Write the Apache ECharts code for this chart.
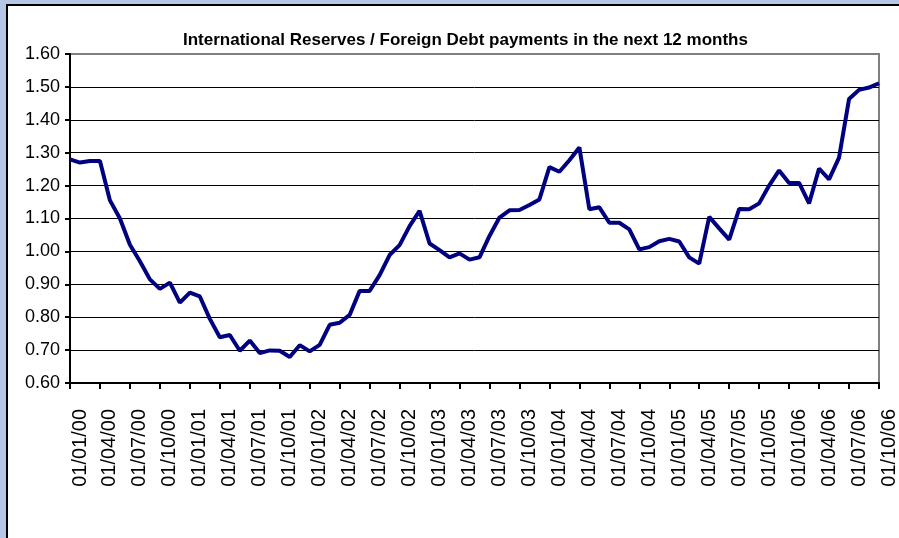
<!DOCTYPE html>
<html>
<head>
<meta charset="utf-8">
<script src="https://cdn.jsdelivr.net/npm/echarts@6/dist/echarts.min.js"></script>
<style>html,body{margin:0;padding:0;background:#b4c7e7;}#chart{width:899px;height:538px;}</style>
</head>
<body>
<div id="chart"></div>
<script>
const chartTitle = 'International Reserves / Foreign Debt payments in the next 12 months';
const categories = [
 '01/01/00','01/02/00','01/03/00','01/04/00','01/05/00','01/06/00','01/07/00','01/08/00','01/09/00','01/10/00','01/11/00','01/12/00',
 '01/01/01','01/02/01','01/03/01','01/04/01','01/05/01','01/06/01','01/07/01','01/08/01','01/09/01','01/10/01','01/11/01','01/12/01',
 '01/01/02','01/02/02','01/03/02','01/04/02','01/05/02','01/06/02','01/07/02','01/08/02','01/09/02','01/10/02','01/11/02','01/12/02',
 '01/01/03','01/02/03','01/03/03','01/04/03','01/05/03','01/06/03','01/07/03','01/08/03','01/09/03','01/10/03','01/11/03','01/12/03',
 '01/01/04','01/02/04','01/03/04','01/04/04','01/05/04','01/06/04','01/07/04','01/08/04','01/09/04','01/10/04','01/11/04','01/12/04',
 '01/01/05','01/02/05','01/03/05','01/04/05','01/05/05','01/06/05','01/07/05','01/08/05','01/09/05','01/10/05','01/11/05','01/12/05',
 '01/01/06','01/02/06','01/03/06','01/04/06','01/05/06','01/06/06','01/07/06','01/08/06','01/09/06','01/10/06'
];
const ratioValues = [
 1.280,1.270,1.275,1.275,1.155,1.100,1.020,0.970,0.915,0.886,0.905,0.844,
 0.875,0.863,0.795,0.739,0.746,0.698,0.729,0.691,0.699,0.698,0.679,0.715,
 0.696,0.716,0.777,0.783,0.807,0.880,0.880,0.928,0.989,1.019,1.077,1.123,
 1.024,1.004,0.982,0.994,0.975,0.982,1.047,1.103,1.125,1.126,1.141,1.158,
 1.256,1.242,1.277,1.316,1.128,1.134,1.087,1.087,1.067,1.006,1.013,1.031,
 1.038,1.030,0.982,0.963,1.105,1.070,1.036,1.129,1.128,1.146,1.200,1.246,
 1.208,1.208,1.146,1.252,1.219,1.285,1.463,1.491,1.498,1.511
];
const yMin = 0.6, yMax = 1.6, yStep = 0.1;

const chart = echarts.init(document.getElementById('chart'), null, {renderer: 'canvas'});
chart.setOption({
  backgroundColor: '#b4c7e7',
  animation: false,
  graphic: [{
    type: 'rect', z: -100, silent: true,
    shape: {x: 7, y: 5, width: 1000, height: 1000},
    style: {fill: '#ffffff', stroke: '#000000', lineWidth: 2}
  }],
  title: {
    text: chartTitle,
    left: 178, top: 27,
    textStyle: {fontFamily: 'Arial, Liberation Sans', fontWeight: 'bold', fontSize: 17, color: '#000'}
  },
  grid: {
    left: 70, right: 15, top: 54, bottom: 155,
    show: true, backgroundColor: '#ffffff', borderColor: '#808080', borderWidth: 2
  },
  xAxis: {
    type: 'category', data: categories, boundaryGap: false,
    axisLine: {lineStyle: {color: '#000', width: 2}},
    axisTick: {show: true, interval: 2, length: 6, lineStyle: {color: '#000', width: 2}},
    axisLabel: {interval: 2, rotate: 90, margin: 26, verticalAlign: 'top',
      fontFamily: 'Arial, Liberation Sans', fontSize: 20, color: '#000'},
    splitLine: {show: false}
  },
  yAxis: {
    type: 'value', min: yMin, max: yMax, interval: yStep,
    axisLine: {show: true, lineStyle: {color: '#000', width: 2}},
    axisTick: {show: true, length: 5, lineStyle: {color: '#000', width: 2}},
    axisLabel: {margin: 10, formatter: v => v.toFixed(2),
      fontFamily: 'Arial, Liberation Sans', fontSize: 18, color: '#000'},
    splitLine: {show: true, showMaxLine: false, lineStyle: {color: '#000', width: 1}}
  },
  series: [{
    type: 'line', data: ratioValues, showSymbol: false, symbol: 'none',
    lineStyle: {color: '#000080', width: 4}
  }]
});
</script>
</body>
</html>
